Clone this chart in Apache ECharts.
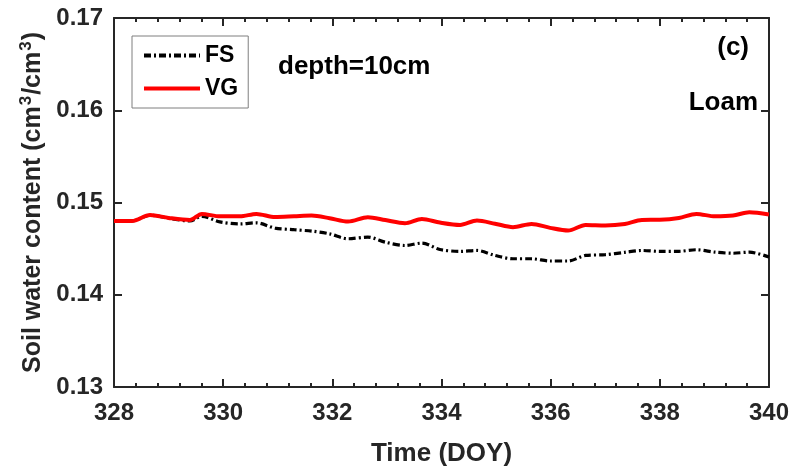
<!DOCTYPE html>
<html>
<head>
<meta charset="utf-8">
<script src="https://cdn.jsdelivr.net/npm/echarts@6/dist/echarts.min.js"></script>
<style>html,body{margin:0;padding:0;background:#fff;}#c{width:793px;height:472px;}</style>
</head>
<body>
<div id="c"></div>
<script>
const days = [328.0, 328.33, 328.66, 329.0, 329.39, 329.61, 329.94, 330.31, 330.61, 330.95, 331.3, 331.62, 331.95, 332.29, 332.65, 332.97, 333.33, 333.64, 333.97, 334.34, 334.65, 334.98, 335.31, 335.65, 335.99, 336.32, 336.64, 337.0, 337.36, 337.67, 338.0, 338.35, 338.67, 339.01, 339.34, 339.64, 340.0];
const vgValues = [0.1480, 0.1480, 0.14865, 0.14833, 0.1481, 0.14876, 0.1485, 0.1485, 0.14876, 0.14842, 0.1485, 0.14858, 0.1483, 0.14793, 0.1484, 0.1481, 0.14776, 0.14822, 0.14783, 0.14757, 0.14804, 0.1477, 0.14733, 0.14768, 0.14725, 0.14696, 0.14757, 0.14752, 0.14768, 0.14811, 0.14813, 0.14833, 0.14876, 0.1485, 0.14858, 0.14894, 0.14869];
const fsValues = [0.1480, 0.1480, 0.14862, 0.1483, 0.1480, 0.1485, 0.1479, 0.14768, 0.1478, 0.14722, 0.14705, 0.1469, 0.1466, 0.14607, 0.14625, 0.1457, 0.14534, 0.1456, 0.14491, 0.1447, 0.1448, 0.14426, 0.1439, 0.1439, 0.14366, 0.14366, 0.14426, 0.14434, 0.1446, 0.1448, 0.1447, 0.14471, 0.14488, 0.14462, 0.1445, 0.14462, 0.14409];
const seriesNames = ['FS', 'VG'];
const xTicks = {min: 328, max: 340, interval: 2};
const yTicks = {min: 0.13, max: 0.17, interval: 0.01};
const annotations = ['depth=10cm', '(c)', 'Loam'];

const FONT = 'Liberation Sans, Arial, sans-serif';
const AX = '#262626';
const chart = echarts.init(document.getElementById('c'), null, {renderer: 'canvas'});
const pair = (xs, ys) => xs.map((x, i) => [x, ys[i]]);

const axisCommon = {
  axisLine: {show: true, lineStyle: {color: AX, width: 2}},
  axisTick: {show: true, inside: true, length: 8, lineStyle: {color: AX, width: 2}},
  splitLine: {show: false}
};

chart.setOption({
  animation: false,
  backgroundColor: '#fff',
  grid: {left: 114, right: 24, top: 18, bottom: 83},
  legend: {
    orient: 'vertical', left: 132, top: 36,
    padding: [8, 10, 8, 10], itemGap: 10,
    borderColor: '#7f7f7f', borderWidth: 1, backgroundColor: '#fff',
    itemWidth: 56, itemHeight: 14,
    itemStyle: {opacity: 0},
    lineStyle: {width: 4},
    textStyle: {fontFamily: FONT, fontWeight: 'bold', fontSize: 23, color: '#000'},
    data: seriesNames
  },
  xAxis: [
    Object.assign({}, axisCommon, {
      type: 'value', min: xTicks.min, max: xTicks.max, interval: xTicks.interval,
      name: 'Time (DOY)', nameLocation: 'middle', nameGap: 54,
      nameTextStyle: {fontFamily: FONT, fontWeight: 'bold', fontSize: 26, color: '#262626'},
      axisLabel: {fontFamily: FONT, fontWeight: 'bold', fontSize: 24, color: '#262626', margin: 14},
      minorTick: {show: true, splitNumber: 5, length: 4, lineStyle: {color: AX, width: 2}}
    }),
    Object.assign({}, axisCommon, {
      type: 'value', position: 'top', min: xTicks.min, max: xTicks.max, interval: xTicks.interval,
      axisLabel: {show: false},
      minorTick: {show: true, splitNumber: 5, length: 4, lineStyle: {color: AX, width: 2}}
    })
  ],
  yAxis: [
    Object.assign({}, axisCommon, {
      type: 'value', min: yTicks.min, max: yTicks.max, interval: yTicks.interval,
      name: '{a|Soil water content (cm}{s|3}{a|/cm}{s|3}{a|)}',
      nameLocation: 'middle', nameGap: 58,
      nameTextStyle: {
        rich: {
          a: {fontFamily: FONT, fontWeight: 'bold', fontSize: 25, color: '#262626'},
          s: {fontFamily: FONT, fontWeight: 'bold', fontSize: 17, color: '#262626', verticalAlign: 'top', padding: [0, 1, 14, 1]}
        }
      },
      axisLabel: {fontFamily: FONT, fontWeight: 'bold', fontSize: 24, color: '#262626', margin: 11,
        formatter: v => v.toFixed(2)}
    }),
    Object.assign({}, axisCommon, {
      type: 'value', position: 'right', min: yTicks.min, max: yTicks.max, interval: yTicks.interval,
      axisLabel: {show: false}
    })
  ],
  series: [
    {
      name: seriesNames[0], type: 'line', xAxisIndex: 0, yAxisIndex: 0,
      data: pair(days, fsValues), showSymbol: false, symbol: 'none', smooth: 0.3,
      lineStyle: {color: '#000', width: 3.2, type: [7, 3, 2, 3]},
      itemStyle: {color: '#000'}, z: 2
    },
    {
      name: seriesNames[1], type: 'line', xAxisIndex: 0, yAxisIndex: 0,
      data: pair(days, vgValues), showSymbol: false, symbol: 'none', smooth: 0.3,
      lineStyle: {color: '#ff0000', width: 4},
      itemStyle: {color: '#ff0000'}, z: 3
    }
  ],
  graphic: [
    {type: 'text', left: 278, top: 54, style: {text: annotations[0], fontFamily: FONT, fontWeight: 'bold', fontSize: 26, fill: '#000'}},
    {type: 'text', right: 44, top: 35, style: {text: annotations[1], fontFamily: FONT, fontWeight: 'bold', fontSize: 26, fill: '#000'}},
    {type: 'text', right: 35, top: 90, style: {text: annotations[2], fontFamily: FONT, fontWeight: 'bold', fontSize: 26, fill: '#000'}}
  ]
});
</script>
</body>
</html>
